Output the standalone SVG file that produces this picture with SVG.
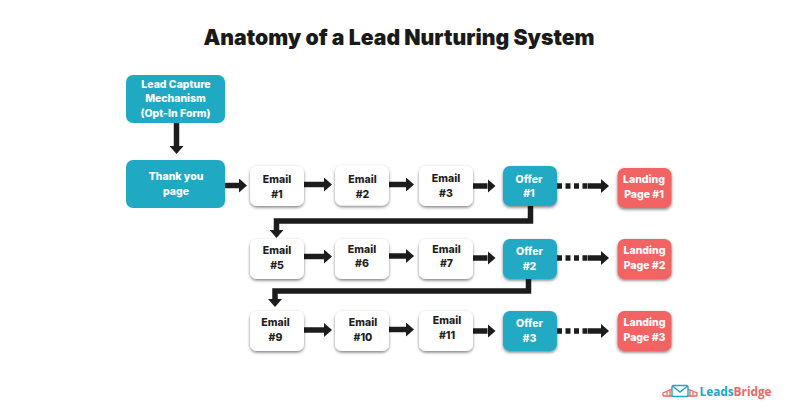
<svg xmlns="http://www.w3.org/2000/svg" width="800" height="419" viewBox="0 0 800 419">
<style>
text{font-family:Inter,"Liberation Sans",sans-serif;font-weight:800;text-anchor:middle}
.t{font-size:10.5px}
.w{fill:#fff}.d{fill:#1f1f1f}
.teal{fill:#20a9c3}.red{fill:#f26464}.card{fill:#fff}
.c{fill:none;stroke:#1c1c1c;stroke-width:5.500}
.dash{stroke-dasharray:5 3.500}
</style>
<defs>
<filter id="s" x="-20%" y="-20%" width="140%" height="150%"><feDropShadow dx="0" dy="1.500" stdDeviation="1.500" flood-color="#000" flood-opacity=".5"/></filter>
<marker id="a" markerUnits="userSpaceOnUse" markerWidth="8" markerHeight="14" refX="0" refY="7" orient="auto"><path d="M0 0L8 7L0 14Z" fill="#1c1c1c"/></marker>
</defs>
<rect width="800" height="419" fill="#fff"/>
<text x="399" y="45" font-size="21.200" fill="#1a1a1a" style="font-weight:900">Anatomy of a Lead Nurturing System</text>

<g id="connectors">
<path class="c" marker-end="url(#a)" d="M176.500 123V146"/>
<path class="c" marker-end="url(#a)" d="M225 185.500H239"/>
<path class="c" marker-end="url(#a)" d="M304 184.500H324"/>
<path class="c" marker-end="url(#a)" d="M389 184.500H406"/>
<path class="c" marker-end="url(#a)" d="M473 186H487.500"/>
<path class="c dash" d="M557 186H588"/>
<path class="c" marker-end="url(#a)" d="M588 186H601"/>
<path class="c" marker-end="url(#a)" d="M530.500 206V221H276.500V230"/>
<path class="c" marker-end="url(#a)" d="M304 256.500H324"/>
<path class="c" marker-end="url(#a)" d="M389 256H406"/>
<path class="c" marker-end="url(#a)" d="M473 258H487.500"/>
<path class="c dash" d="M557 258H588"/>
<path class="c" marker-end="url(#a)" d="M588 258H601"/>
<path class="c" marker-end="url(#a)" d="M528.500 279V291H275V299"/>
<path class="c" marker-end="url(#a)" d="M304 330H324"/>
<path class="c" marker-end="url(#a)" d="M389 329.500H406"/>
<path class="c" marker-end="url(#a)" d="M473 331H487.500"/>
<path class="c dash" d="M557 331H588"/>
<path class="c" marker-end="url(#a)" d="M588 331H601"/>
</g>

<g id="lead-capture"><rect class="teal" x="126" y="75" width="99" height="48" rx="7"/><text class="t w" x="176" y="87.500">Lead Capture</text><text class="t w" x="175.500" y="102">Mechanism</text><text class="t w" x="175.500" y="116.500">(Opt-In Form)</text></g>
<g id="thank-you"><rect class="teal" x="126" y="160" width="99" height="48" rx="7"/><text class="t w" x="176" y="180">Thank you</text><text class="t w" x="176" y="195">page</text></g>

<g id="email-1"><rect class="card" filter="url(#s)" x="250" y="166" width="54" height="40" rx="7"/><text class="t d" x="277" y="183">Email</text><text class="t d" x="277" y="198">#1</text></g>
<g id="email-2"><rect class="card" filter="url(#s)" x="335" y="165.500" width="54" height="40" rx="7"/><text class="t d" x="362.500" y="182.500">Email</text><text class="t d" x="362.500" y="197.500">#2</text></g>
<g id="email-3"><rect class="card" filter="url(#s)" x="419" y="166" width="54" height="40" rx="7"/><text class="t d" x="446" y="181.500">Email</text><text class="t d" x="446" y="196.500">#3</text></g>
<g id="offer-1"><rect class="teal" filter="url(#s)" x="503" y="166" width="54" height="40" rx="7"/><text class="t w" x="529" y="182.500">Offer</text><text class="t w" x="529" y="197">#1</text></g>
<g id="landing-1"><rect class="red" filter="url(#s)" x="617.500" y="168" width="54" height="40" rx="7"/><text class="t w" x="644" y="183">Landing</text><text class="t w" x="644" y="198">Page #1</text></g>

<g id="email-5"><rect class="card" filter="url(#s)" x="250" y="239" width="54" height="40" rx="7"/><text class="t d" x="277" y="254">Email</text><text class="t d" x="277" y="269">#5</text></g>
<g id="email-6"><rect class="card" filter="url(#s)" x="335" y="239" width="54" height="40" rx="7"/><text class="t d" x="362" y="252.500">Email</text><text class="t d" x="362" y="267">#6</text></g>
<g id="email-7"><rect class="card" filter="url(#s)" x="419" y="239" width="54" height="40" rx="7"/><text class="t d" x="446.500" y="252.500">Email</text><text class="t d" x="446.500" y="267">#7</text></g>
<g id="offer-2"><rect class="teal" filter="url(#s)" x="503" y="239" width="54" height="40" rx="7"/><text class="t w" x="529.500" y="255">Offer</text><text class="t w" x="529.500" y="270">#2</text></g>
<g id="landing-2"><rect class="red" filter="url(#s)" x="617.500" y="239" width="54" height="40" rx="7"/><text class="t w" x="644.500" y="254">Landing</text><text class="t w" x="644.500" y="269">Page #2</text></g>

<g id="email-9"><rect class="card" filter="url(#s)" x="250" y="311" width="54" height="40" rx="7"/><text class="t d" x="275.500" y="326">Email</text><text class="t d" x="275.500" y="341">#9</text></g>
<g id="email-10"><rect class="card" filter="url(#s)" x="335" y="311" width="54" height="40" rx="7"/><text class="t d" x="363" y="325.500">Email</text><text class="t d" x="363" y="340.500">#10</text></g>
<g id="email-11"><rect class="card" filter="url(#s)" x="419" y="311" width="54" height="40" rx="7"/><text class="t d" x="447" y="324">Email</text><text class="t d" x="447" y="339">#11</text></g>
<g id="offer-3"><rect class="teal" filter="url(#s)" x="503" y="311" width="54" height="40" rx="7"/><text class="t w" x="529.500" y="327">Offer</text><text class="t w" x="529.500" y="342">#3</text></g>
<g id="landing-3"><rect class="red" filter="url(#s)" x="617.500" y="311" width="54" height="40" rx="7"/><text class="t w" x="644.500" y="326">Landing</text><text class="t w" x="644.500" y="341">Page #3</text></g>

<g id="logo">
<path d="M663 396V393L672 389M688 389L697 393V396M663 396H697M667 396V392M670 396V390M690 396V390M693 396V392" stroke="#f26464" stroke-width="1.300" fill="none"/>
<rect x="672" y="385.500" width="16" height="11" rx="1.500" fill="#fff" stroke="#20a9c3" stroke-width="1.400"/>
<path d="M672.500 386L680 392L687.500 386" fill="none" stroke="#20a9c3" stroke-width="1.400"/>
<text x="699.500" y="396" font-size="11.800" style="text-anchor:start;font-weight:700;font-family:'Open Sans','Liberation Sans',sans-serif"><tspan fill="#20a9c3">Leads</tspan><tspan fill="#f26464">Bridge</tspan></text>
</g>
</svg>
